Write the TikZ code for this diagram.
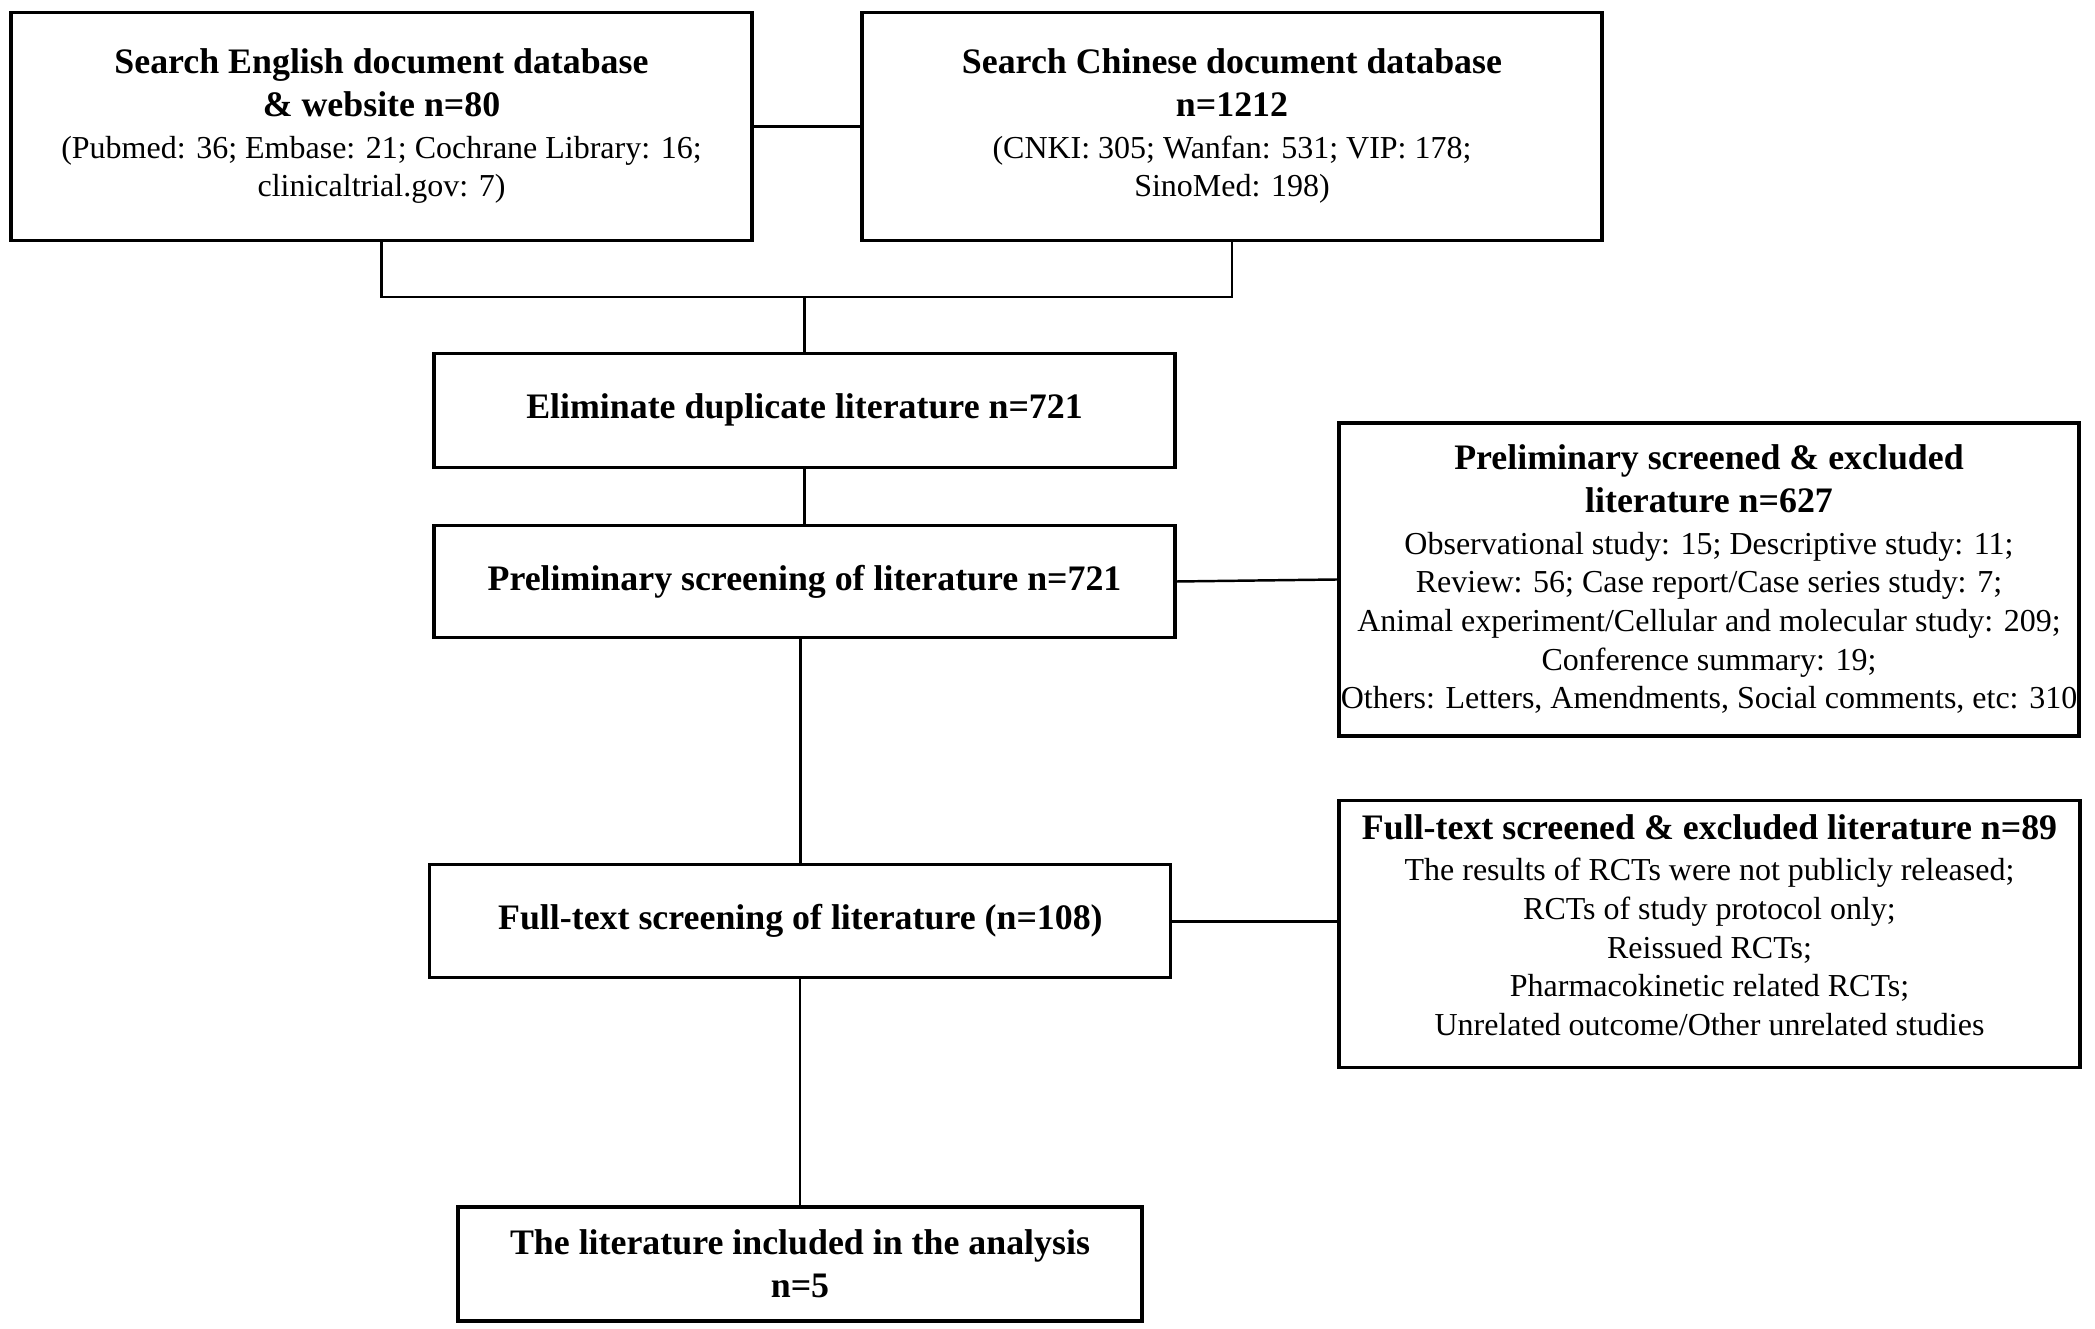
\documentclass[tikz,border=0pt]{standalone}
\usepackage{fontspec}
\setmainfont{Liberation Serif}
\newcommand{\bsz}{\fontsize{10.2}{12.2}\selectfont\bfseries}
\newcommand{\rsz}{\fontsize{9.1}{11}\selectfont\mdseries}
\tikzset{
  box/.style={draw, line width=0.9pt, align=center, inner sep=0pt, font=\rsz},
  link/.style={line width=0.7pt}
}
\begin{document}
\begin{tikzpicture}
  \useasboundingbox (0,0) rectangle (20.95,-13.29);
  % search
  \node [box, minimum width=7.41cm, minimum height=2.283cm] (eng) at (3.815,-1.263)
    {{\bsz Search English document database}\\[1.2pt]
     {\bsz \& website n=80}\\[0.8pt]
     (Pubmed: 36; Embase: 21; Cochrane Library: 16;\\
     clinicaltrial.gov: 7)};
  \node [box, minimum width=7.40cm, minimum height=2.283cm] (chn) at (12.32,-1.263)
    {{\bsz Search Chinese document database}\\[1.2pt]
     {\bsz n=1212}\\[0.8pt]
     (CNKI: 305; Wanfan: 531; VIP: 178;\\
     SinoMed: 198)};
  % main column
  \node [box, minimum width=7.41cm, minimum height=1.142cm] (dup) at (8.045,-4.103)
    {\bsz Eliminate duplicate literature n=721};
  \node [box, minimum width=7.41cm, minimum height=1.128cm] (pre) at (8.045,-5.815)
    {\bsz Preliminary screening of literature n=721};
  \node [box, minimum width=7.41cm, minimum height=1.128cm] (full) at (8.004,-9.213)
    {\bsz Full-text screening of literature (n=108)};
  \node [box, minimum width=6.84cm, minimum height=1.14cm] (inc) at (8.0,-12.64)
    {{\bsz The literature included in the analysis}\\[1.2pt]
     {\bsz n=5}};
  % excluded
  \node [box, minimum width=7.40cm, minimum height=3.13cm] (exA) at (17.09,-5.795)
    {{\bsz Preliminary screened \& excluded}\\[1.2pt]
     {\bsz literature n=627}\\[0.8pt]
     Observational study: 15; Descriptive study: 11;\\
     Review: 56; Case report/Case series study: 7;\\
     Animal experiment/Cellular and molecular study: 209;\\
     Conference summary: 19;\\
     Others: Letters, Amendments, Social comments, etc: 310};
  \node [box, minimum width=7.41cm, minimum height=2.673cm] (exB) at (17.095,-9.34) {};
  \node [align=center, inner sep=0pt, font=\rsz, yshift=0.087cm] (exBtxt) at (exB.center)
    {{\bsz Full-text screened \& excluded literature n=89}\\[0.8pt]
     The results of RCTs were not publicly released;\\
     RCTs of study protocol only;\\
     Reissued RCTs;\\
     Pharmacokinetic related RCTs;\\
     Unrelated outcome/Other unrelated studies};

  % lines
  \coordinate (j) at (8.045,-2.968);
  \draw [link] (eng.east) -- (chn.west);
  \draw [link] (eng.south) |- (j) -| (chn.south);
  \draw [link] (j) -- (dup.north);
  \draw [link] (dup.south) -- (pre.north);
  \draw [link] (pre.east) -- (exA.west);
  \draw [link] (full.north |- pre.south) -- (full.north);
  \draw [link] (full.east) -- (full.east -| exB.west);
  \draw [link] (full.south) -- (full.south -| inc.north) -- (inc.north);
\end{tikzpicture}
\end{document}
